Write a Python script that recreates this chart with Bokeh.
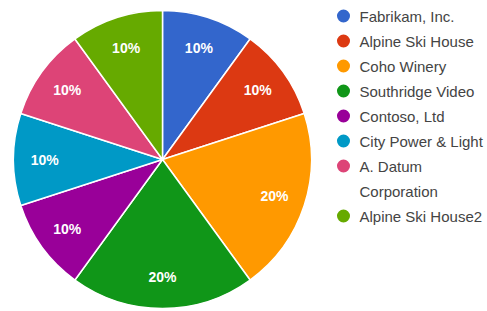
import math
from bokeh.plotting import figure
from bokeh.models import ColumnDataSource, Range1d
from bokeh.core.properties import value
from bokeh.embed import file_html
from bokeh.resources import INLINE

# ---- data ----
categories = ["Fabrikam, Inc.", "Alpine Ski House", "Coho Winery", "Southridge Video",
              "Contoso, Ltd", "City Power & Light", "A. Datum\nCorporation", "Alpine Ski House2"]
shares = [10, 10, 20, 20, 10, 10, 10, 10]
colors = ["#3366CC", "#DC3912", "#FF9900", "#109618", "#990099", "#0099C6", "#DD4477", "#66AA00"]

W, H = 487, 311
p = figure(width=W, height=H, output_backend="svg", toolbar_location=None,
           x_range=Range1d(0, W), y_range=Range1d(0, H), min_border=0)
p.axis.visible = False
p.grid.visible = False
p.outline_line_color = None
p.background_fill_color = "white"

cx, cy, R = 162, H - 159, 149
total = sum(shares)
starts, ends, lx, ly, labs = [], [], [], [], []
acc = 0.0
for s in shares:
    a0 = math.pi / 2 - 2 * math.pi * acc / total
    a1 = math.pi / 2 - 2 * math.pi * (acc + s) / total
    starts.append(a0)
    ends.append(a1)
    mid = (a0 + a1) / 2
    lx.append(cx + 0.79 * R * math.cos(mid))
    ly.append(cy + 0.79 * R * math.sin(mid))
    labs.append(f"{round(100 * s / total)}%")
    acc += s

src = ColumnDataSource(dict(start=starts, end=ends, color=colors))
p.wedge(x=cx, y=cy, radius=R, start_angle="start", end_angle="end", direction="clock",
        fill_color="color", line_color="white", line_width=1.5, source=src)
p.text(x=lx, y=ly, text=labs, text_color="white", text_font=value("Liberation Sans"),
       text_font_style="bold", text_font_size="14px", text_align="center",
       text_baseline="middle")

# legend
row_h = 25.0
y0 = H - 15.5
mx, my, tx, ty, tt, mc = [], [], [], [], [], []
row = 0
for cat, col in zip(categories, colors):
    mx.append(343)
    my.append(y0 - row * row_h)
    mc.append(col)
    for line in cat.split("\n"):
        tx.append(359)
        ty.append(y0 - row * row_h)
        tt.append(line)
        row += 1
p.scatter(x=mx, y=my, size=13, fill_color=mc, line_color=None)
p.text(x=tx, y=ty, text=tt, text_color="#444444", text_font=value("Liberation Sans"),
       text_font_size="15px", text_align="left", text_baseline="middle")

open("out.html", "w").write(file_html(p, INLINE))
